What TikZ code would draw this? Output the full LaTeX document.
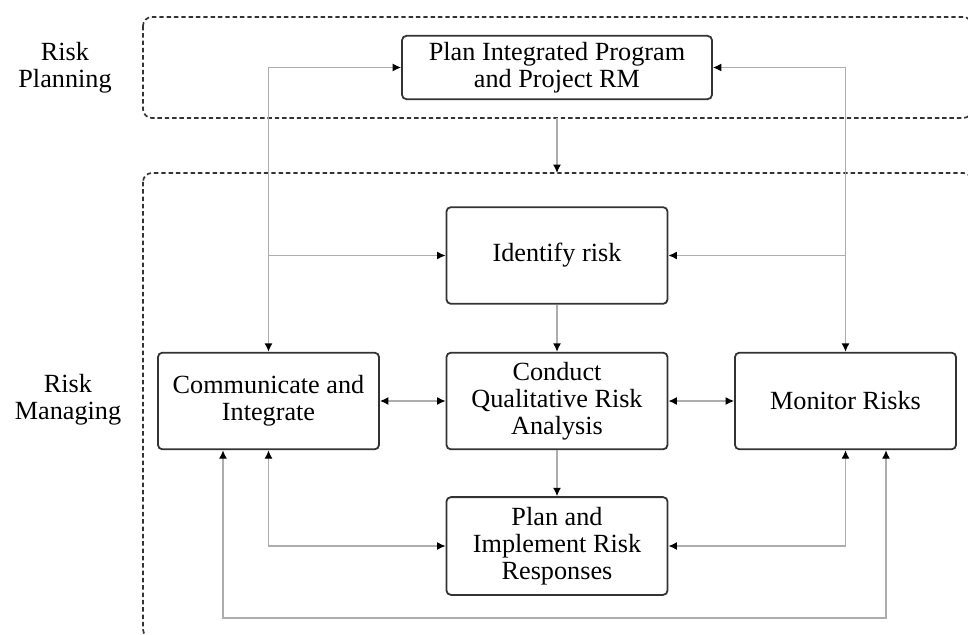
\documentclass[tikz,border=0pt]{standalone}
\usepackage{fontspec}
\setmainfont{Liberation Serif}
\usepackage{xcolor}
\usetikzlibrary{arrows.meta}

\tikzset{
	box/.style={draw=black!80, line width=0.8pt, rounded corners=2pt, align=center, inner sep=2pt, minimum width=99.5pt, minimum height=43.5pt},
	frame/.style={draw=black!80, line width=0.75pt, dash pattern=on 2pt off 1.3pt, rounded corners=4pt},
	link/.style={draw=black!32, line width=0.6pt, >={Latex[black,length=3.8pt,width=3.6pt]}},
	side/.style={align=center}
}

\begin{document}
\begin{tikzpicture}[x=0.45pt, y=-0.45pt, font=\fontsize{11.8}{12.2}\selectfont]
			\useasboundingbox (0,0) rectangle (968,635);
			% Vẽ khung
			\draw [frame] (143,17) rectangle (972,118);
			\draw [frame] (143,173) rectangle (972,638);
			\node [side] (riskplan) at (65,68) {Risk\\Planning};
			\node [side] (riskmanage) at (68,400) {Risk\\Managing};
			% Vẽ hộp
			\node [box, minimum width=139.5pt, minimum height=28.5pt] (plan) at (557,67.5) {Plan Integrated Program\\and Project RM};
			\node [box] (identify) at (557,255.5) {Identify risk};
			\node [box] (communicate) at (268.5,401) {Communicate and\\Integrate};
			\node [box] (conduct) at (557,401) {Conduct\\Qualitative Risk\\Analysis};
			\node [box] (monitor) at (845.5,401) {Monitor Risks};
			\node [box, minimum height=44pt] (respond) at (557,546) {Plan and\\Implement Risk\\Responses};
			% Vẽ mũi tên
			\coordinate (planexit) at (557,118);
			\coordinate (manageentry) at (557,173);
			\coordinate (loopleft) at (223,618);
			\coordinate (loopright) at (886,618);
			\draw [link,->] (planexit) -- (manageentry);
			\draw [link,<->] (communicate.north) |- (plan.west);
			\draw [link,<->] (monitor.north) |- (plan.east);
			\draw [link,->] (communicate.north |- identify.west) -- (identify.west);
			\draw [link,->] (monitor.north |- identify.east) -- (identify.east);
			\draw [link,->] (identify) -- (conduct);
			\draw [link,->] (conduct) -- (respond);
			\draw [link,<->] (communicate) -- (conduct);
			\draw [link,<->] (conduct) -- (monitor);
			\draw [link,<->] (communicate.south) |- (respond.west);
			\draw [link,<->] (monitor.south) |- (respond.east);
			\draw [link,<->] (communicate.south -| loopleft) -- (loopleft) -- (loopright) -- (monitor.south -| loopright);
		\end{tikzpicture}
\end{document}
